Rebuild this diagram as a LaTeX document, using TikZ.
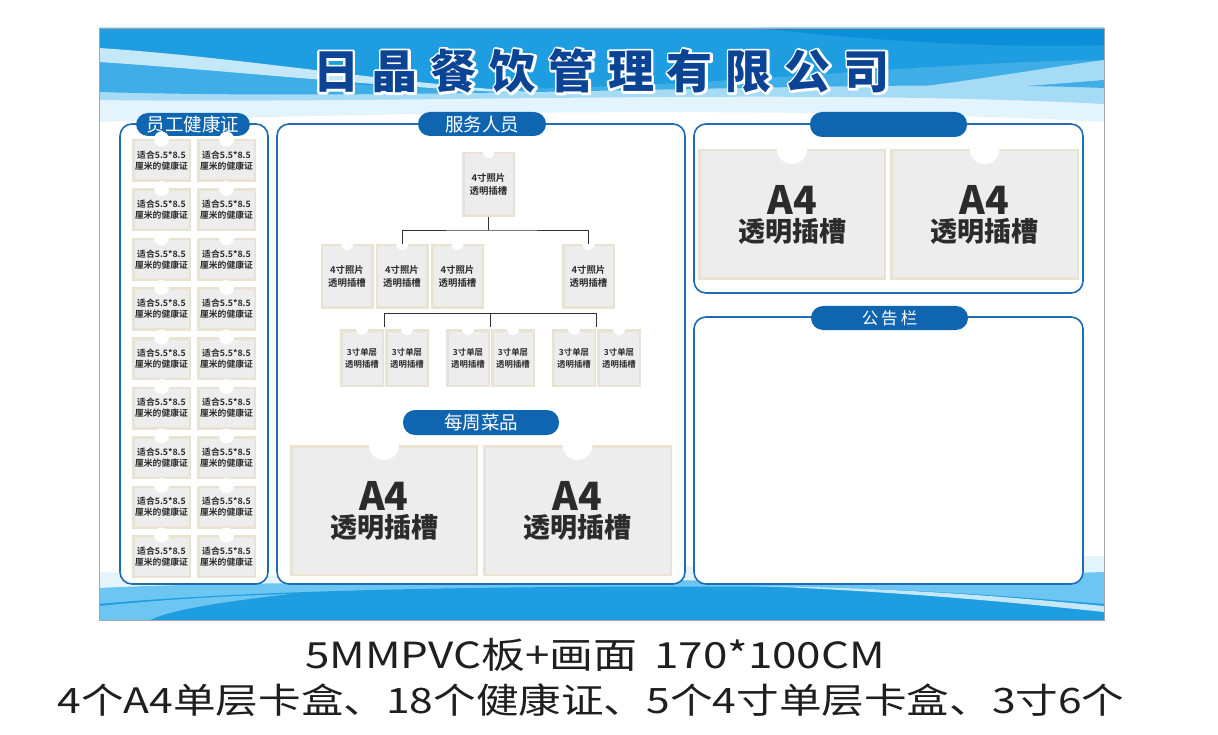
\documentclass[tikz,border=0pt]{standalone}
\usepackage{fontspec}
\usepackage{graphicx}
\newfontfamily\cjk{Noto Sans CJK SC}[BoldFont={Noto Sans CJK SC Bold}]
\newfontfamily\cjkblack{Noto Sans CJK SC Black}
\newcommand\myfs[2][]{\fontsize{#2}{\ifx&#1&#2\else#1\fi}\selectfont}
\definecolor{frameblue}{HTML}{1F6BB4}
\definecolor{pillblue}{HTML}{0F65B0}
\definecolor{titleblue}{HTML}{0B4494}
\definecolor{cardgray}{HTML}{EDEDED}
\definecolor{cardtan}{HTML}{E9E3D3}
\definecolor{cardtext}{HTML}{2B2B2B}
\definecolor{bgA}{HTML}{E4F4FD}
\definecolor{bgB}{HTML}{A6DBF6}
\definecolor{bgC}{HTML}{3FADE6}
\definecolor{bgD}{HTML}{1E9DE1}
\definecolor{bgE}{HTML}{0B8FD8}
\definecolor{bgS}{HTML}{C5E8F9}
\definecolor{bgF}{HTML}{6CC6F1}
\newcommand\titletext{日\hspace{13pt}晶\hspace{13pt}餐\hspace{13pt}饮\hspace{13pt}管\hspace{13pt}理\hspace{13pt}有\hspace{13pt}限\hspace{13pt}公\hspace{13pt}司}
\begin{document}
\begin{tikzpicture}[x=1pt,y=-1pt,
  frame/.style={draw=frameblue, line width=1.6pt, fill=white, rounded corners=12pt},
  pill/.style={fill=pillblue, rounded corners=12pt, text=white, inner sep=0pt, font=\cjk\myfs{18.5}},
  card/.style={fill=cardgray, draw=cardtan, line width=2.5pt, inner sep=0pt, align=center, text=cardtext},
  hcard/.style={card, minimum width=56.5pt, minimum height=40.5pt, font=\cjk\bfseries\myfs[11]{8.8}},
  ocard/.style={card, minimum width=50.5pt, minimum height=62.5pt, font=\cjk\bfseries\myfs[13]{9.4}},
  scard/.style={card, minimum width=41.5pt, minimum height=55.5pt, font=\cjk\bfseries\myfs[12]{8.4}},
  acard/.style={card, minimum height=128.5pt, font=\cjkblack\myfs{27}},
  conn/.style={draw=black!80, line width=0.8pt},
  ttl/.style={font=\cjkblack\myfs{46}, text=titleblue, inner sep=0pt},
  foot/.style={font=\cjk, text=black!88, inner sep=0pt}
]
\useasboundingbox (0,0) rectangle (1218,735);
\fill[white] (0,0) rectangle (1218,735);

% ---------- board background ----------
\fill[white] (99,28) rectangle (1104,620);
\fill[bgA] (99,28) -- (1104,28) -- (1104,122) .. controls (800,106) and (400,112) .. (99,122) -- cycle;
\fill[bgB] (99,28) -- (1104,28) -- (1104,104) .. controls (800,88) and (400,104) .. (99,100) -- cycle;
\fill[bgC] (99,28) -- (1104,28) -- (1104,88) .. controls (850,78) and (450,102) .. (99,92) -- cycle;
\fill[bgD] (99,28) -- (1104,28) -- (1104,60) .. controls (900,62) and (650,95) .. (420,88) .. controls (300,84) and (200,60) .. (99,50) -- cycle;
\fill[bgS] (99,48) .. controls (250,58) and (400,85) .. (560,94) .. controls (400,90) and (250,72) .. (99,62) -- cycle;
\fill[bgB] (840,96) .. controls (950,85) and (1030,70) .. (1104,60) -- (1104,80) .. controls (1030,86) and (950,92) .. (840,96) -- cycle;
\fill[bgE] (760,28) -- (1104,28) -- (1104,45) .. controls (1000,48) and (880,42) .. (760,28) -- cycle;

\fill[bgA] (99,620) -- (99,572) .. controls (400,586) and (800,556) .. (1104,556) -- (1104,620) -- cycle;
\fill[bgF] (99,620) -- (99,588) .. controls (300,578) and (700,586) .. (1104,572) -- (1104,620) -- cycle;
\fill[bgD] (99,620) -- (99,604) .. controls (250,590) and (500,585) .. (800,587) .. controls (950,590) and (1050,600) .. (1104,604) -- (1104,620) -- cycle;
\fill[bgS] (760,586) .. controls (900,588) and (1000,596) .. (1104,606) -- (1104,612) .. controls (1000,601) and (900,592) .. (760,586) -- cycle;
\fill[bgF] (99,620) -- (99,606) .. controls (160,600) and (220,596) .. (290,594) .. controls (220,602) and (170,610) .. (150,620) -- cycle;
\draw[black!35, line width=0.8pt] (99,28) rectangle (1104,620);

% ---------- title ----------
\node[ttl, text=white] (tw) at (601.5,71) {\special{pdf:literal direct 1 Tr 4.5 w 1 j}\titletext\special{pdf:literal direct 0 Tr}};
\node[ttl] (tt) at (601.5,71) {\titletext};

% ---------- frames ----------
\draw[frame] (120,124) rectangle (268,584);
\draw[frame] (277,124) rectangle (685,584);
\draw[frame] (694,124) rectangle (1083,293);
\draw[frame] (694,317) rectangle (1083,584);

% ---------- pills ----------
\node[pill, minimum width=114pt, minimum height=23pt] (p1) at (193,124.5) {员工健康证};
\node[pill, minimum width=128pt, minimum height=24pt] (p2) at (482,124) {服务人员};
\node[pill, minimum width=157pt, minimum height=25pt] (p3) at (888.5,124.5) {};
\node[pill, minimum width=156pt, minimum height=25pt] (p4) at (481,422.5) {每周菜品};
\node[pill, minimum width=157pt, minimum height=24pt, font=\cjk\myfs{16.5}] (p5) at (889.5,318) {公\hspace{3pt}告\hspace{3pt}栏};

% ---------- health cards ----------
\foreach \r in {0,...,8}
  \foreach \c/\cx in {0/161.5,1/226.5} {
    \node[hcard] (h\r\c) at (\cx,{160.5+49.5*\r}) {适合5.5*8.5\\厘米的健康证};
    \fill[white] (h\r\c.north) circle[radius=7.5pt];
  }

% ---------- org chart ----------
\node[ocard] (o0) at (488.5,184.5) {4寸照片\\透明插槽};
\node[ocard] (o1) at (347,276.5) {4寸照片\\透明插槽};
\node[ocard] (o2) at (402,276.5) {4寸照片\\透明插槽};
\node[ocard] (o3) at (457.5,276.5) {4寸照片\\透明插槽};
\node[ocard] (o4) at (588.5,276.5) {4寸照片\\透明插槽};
\foreach \n in {o0,o1,o2,o3,o4}
  \fill[white] (\n.north) circle[radius=6pt];
\foreach \x [count=\i] in {362,407,468,513,574,619} {
  \node[scard] (s\i) at (\x,358) {3寸单层\\透明插槽};
  \fill[white] (s\i.north) circle[radius=6pt];
}
\coordinate (j0) at (488.5,230);
\draw[conn] (o0.south) -- (j0);
\draw[conn] (o2.north) |- (j0) -| (o4.north);
\coordinate (k1) at (384.5,327);
\coordinate (k2) at (490.5,327);
\coordinate (k3) at (596.5,327);
\coordinate (m1) at (384.5,313);
\coordinate (m2) at (490.5,313);
\coordinate (m3) at (596.5,313);
\draw[conn] (k1) -- (m1) -- (m3) -- (k3);
\draw[conn] (m2) -- (k2);

% ---------- A4 slots ----------
\node[acard, minimum width=185.5pt] (a1) at (384,510.5) {{\myfs{39}A4}\\透明插槽};
\node[acard, minimum width=186.5pt] (a2) at (577.5,510.5) {{\myfs{39}A4}\\透明插槽};
\node[acard, minimum width=185.5pt] (a3) at (792,214.5) {{\myfs{39}A4}\\透明插槽};
\node[acard, minimum width=186.5pt] (a4) at (984.5,214.5) {{\myfs{39}A4}\\透明插槽};
\foreach \n in {a1,a2,a3,a4}
  \fill[white] (\n.north) circle[radius=15pt];

% ---------- footer ----------
\node[foot] (f1) at (595,655) {\resizebox{580pt}{\height}{\myfs{36}5MMPVC板+画面\hspace{14pt}170*100CM}};
\node[foot] (f2) at (591,700) {\resizebox{1067pt}{\height}{\myfs{35}4个A4单层卡盒、18个健康证、5个4寸单层卡盒、3寸6个}};
\end{tikzpicture}
\end{document}
